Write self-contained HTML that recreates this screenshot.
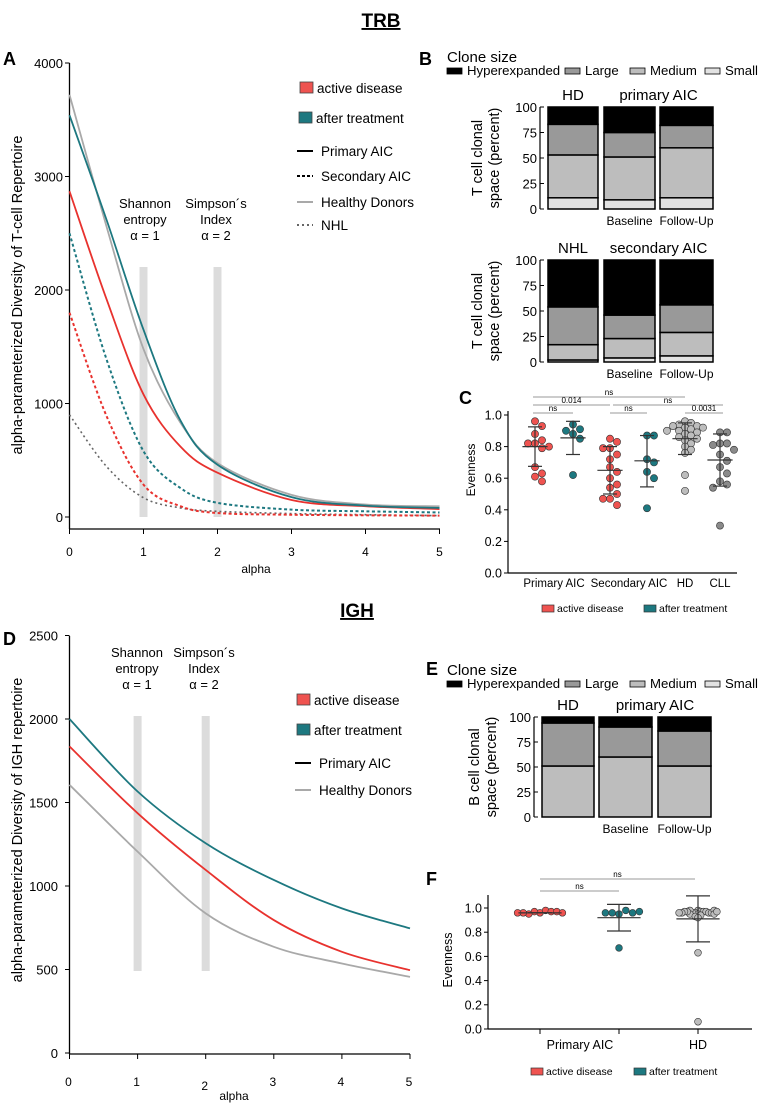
<!DOCTYPE html>
<html><head><meta charset="utf-8"><style>
html,body{margin:0;padding:0;background:#fff}
svg{display:block;font-family:"Liberation Sans",Arial,sans-serif}
</style></head><body>
<svg id="fig" width="765" height="1105" viewBox="0 0 765 1105" xmlns="http://www.w3.org/2000/svg">
<text x="381" y="27" font-size="19" font-weight="bold" text-anchor="middle" text-decoration="underline">TRB</text>
<text x="357" y="617" font-size="19" font-weight="bold" text-anchor="middle" text-decoration="underline">IGH</text>
<text x="3" y="65" font-size="18" font-weight="bold">A</text>
<text x="419" y="65" font-size="18" font-weight="bold">B</text>
<text x="459" y="404" font-size="18" font-weight="bold">C</text>
<text x="3" y="645" font-size="18" font-weight="bold">D</text>
<text x="426" y="675" font-size="18" font-weight="bold">E</text>
<text x="426" y="885" font-size="18" font-weight="bold">F</text>
</svg>
<script>
// ---------- data ----------
const alphaA=[0,0.5,1,1.5,2,3,4,5];
const hdA=[3720,2560,1480,830,475,195,110,95];
const priTealA=[3540,2620,1650,850,460,175,100,80];
const priRedA=[2870,1920,1080,620,390,150,95,70];
const secTealA=[2500,1390,580,255,125,65,50,40];
const secRedA=[1800,890,285,95,35,20,15,12];
const nhlA=[900,445,170,80,50,30,20,12];
const ticksA=[0,1000,2000,3000,4000];
const alphaTicks=[0,1,2,3,4,5];

const alphaD=[0,1,2,3,4,5];
const tealD=[2000,1566,1256,1036,866,746];
const redD=[1836,1436,1096,796,606,496];
const hdD=[1606,1206,836,636,536,456];
const ticksD=[0,500,1000,1500,2000,2500];

// stacked bars: cumulative tops [small, medium, large] (hyper to 100)
const barTopLabels=["HD","Baseline","Follow-Up"];
const tTop=[[11,53,83],[9,51,75],[11,60,82]];
const tBot=[[2,17,54],[4,23,46],[6,29,56]];
const bIgh=[[0,51,94],[0,60,90],[0,51,86]];
const pctTicks=[0,25,50,75,100];

// evenness dot plots
const cCats=["Primary AIC","Secondary AIC","HD","CLL"];
const cPriRed=[0.96,0.93,0.88,0.84,0.82,0.82,0.80,0.79,0.67,0.63,0.61,0.58];
const cPriTeal=[0.94,0.91,0.90,0.88,0.85,0.62];
const cSecRed=[0.85,0.83,0.79,0.79,0.75,0.72,0.67,0.64,0.60,0.56,0.54,0.50,0.47,0.47,0.43];
const cSecTeal=[0.87,0.87,0.72,0.70,0.64,0.60,0.41];
const cHD=[0.96,0.95,0.94,0.93,0.93,0.92,0.92,0.91,0.90,0.90,0.89,0.88,0.87,0.86,0.85,0.84,0.82,0.80,0.78,0.76,0.62,0.52];
const cCLL=[0.89,0.89,0.82,0.82,0.81,0.78,0.75,0.71,0.67,0.63,0.58,0.56,0.54,0.30];
const cMean=[0.80,0.855,0.65,0.71,0.85,0.715];
const cHi=[0.925,0.96,0.80,0.87,0.95,0.88];
const cLo=[0.675,0.75,0.50,0.545,0.75,0.55];
const cTicks=[0,0.2,0.4,0.6,0.8,1.0];

const fRed=[0.96,0.98,0.97,0.97,0.95,0.97,0.96,0.96,0.96];
const fTeal=[0.95,0.98,0.96,0.96,0.96,0.97,0.67];
const fHD=[0.98,0.97,0.96,0.97,0.95,0.96,0.97,0.94,0.98,0.96,0.95,0.97,0.93,0.96,0.97,0.98,0.95,0.92,0.96,0.97,0.96,0.63,0.06];
const fMean=[0.96,0.92,0.91];
const fHi=[0.96,1.03,1.10];
const fLo=[0.96,0.81,0.72];
const fTicks=[0,0.2,0.4,0.6,0.8,1.0];

const RED="#e8322e",TEAL="#1d7880",GRAY="#a9a9a9";
const svg=document.getElementById('fig');
const NS="http://www.w3.org/2000/svg";
function mk(tag,attrs,txt){const e=document.createElementNS(NS,tag);for(const k in attrs)e.setAttribute(k,attrs[k]);if(txt!==undefined)e.textContent=txt;svg.appendChild(e);return e;}
function smooth(pts){let d="M"+pts[0][0]+","+pts[0][1];for(let i=0;i<pts.length-1;i++){const p0=pts[i-1]||pts[i],p1=pts[i],p2=pts[i+1],p3=pts[i+2]||p2;
d+=" C"+(p1[0]+(p2[0]-p0[0])/6)+","+(p1[1]+(p2[1]-p0[1])/6)+" "+(p2[0]-(p3[0]-p1[0])/6)+","+(p2[1]-(p3[1]-p1[1])/6)+" "+p2[0]+","+p2[1];}return d;}

// ---------- Panel A ----------
const xA=a=>69.5+a*74, yA=v=>517-v*0.1135;
[1,2].forEach(a=>{const r=mk('rect',{x:xA(a)-4,y:267,width:8,height:250,fill:"#dcdcdc"});

});
let e;
e=mk('line',{x1:69.5,y1:63,x2:69.5,y2:529,stroke:"#000","stroke-width":1.3});


e=mk('line',{x1:69.5,y1:529,x2:440,y2:529,stroke:"#000","stroke-width":1.3});


ticksA.forEach(v=>{e=mk('line',{x1:65,x2:69.5,y1:yA(v),y2:yA(v),stroke:"#000"});


e=mk('text',{x:63,y:yA(v)+5,"font-size":13,"text-anchor":"end"},String(v));

});
alphaTicks.forEach(a=>{e=mk('line',{x1:xA(a),x2:xA(a),y1:529,y2:534,stroke:"#000"});


e=mk('text',{x:xA(a),y:556,"font-size":12,"text-anchor":"middle"},String(a));

});
e=mk('text',{x:256,y:573,"font-size":12,"text-anchor":"middle"},"alpha");


e=mk('text',{x:0,y:0,"font-size":14.5,"text-anchor":"middle",transform:"translate(22,295) rotate(-90)"},"alpha-parameterized Diversity of T-cell Repertoire");


[["Shannon","entropy","α = 1",145],["Simpson´s","Index","α = 2",216]].forEach(t=>{[0,1,2].forEach(i=>{e=mk('text',{x:t[3],y:208+i*16,"font-size":13,"text-anchor":"middle"},t[i]);

});});
const seriesA=[[nhlA,"#666","2,3",1.6],[secRedA,RED,"3,2.5",2],[secTealA,TEAL,"3,2.5",2],[priRedA,RED,"",1.8],[hdA,GRAY,"",1.8],[priTealA,TEAL,"",1.8]];
const namesA=["nhl-curve","secondary-aic-active-curve","secondary-aic-treated-curve","primary-aic-active-curve","healthy-donor-curve","primary-aic-treated-curve"];
seriesA.forEach((s,k)=>{e=mk('path',{d:smooth(alphaA.map((a,i)=>[xA(a),yA(s[0][i])])),fill:"none",stroke:s[1],"stroke-width":s[3],"stroke-dasharray":s[2]});

});
// legend A
function legSwatch(x,y,col,label,name){e=mk('rect',{x:x,y:y-6,width:13,height:11,fill:col,stroke:"#444","stroke-width":0.8});


e=mk('text',{x:x+17,y:y+5,"font-size":13.5},label);

}
function legLine(x,y,col,dash,label,name){e=mk('line',{x1:x,x2:x+16,y1:y,y2:y,stroke:col,"stroke-width":2,"stroke-dasharray":dash});


e=mk('text',{x:x+24,y:y+5,"font-size":13.5},label);

}
legSwatch(300,88,"#ef5350","active disease","legend-a-active");
legSwatch(299,118,TEAL,"after treatment","legend-a-treated");
legLine(297,151,"#000","","Primary AIC","legend-a-primary");
legLine(297,176,"#000","3,2","Secondary AIC","legend-a-secondary");
legLine(297,202,GRAY,"","Healthy Donors","legend-a-healthy");
legLine(297,225,"#666","2,3","NHL","legend-a-nhl");

// ---------- Panel D ----------
const xD=a=>69.5+a*68.1, yD=v=>1053-v*0.167;
[1,2].forEach(a=>{const r=mk('rect',{x:xD(a)-4,y:716,width:8,height:255,fill:"#dcdcdc"});

});
e=mk('line',{x1:69.5,y1:636,x2:69.5,y2:1054,stroke:"#000","stroke-width":1.3});


e=mk('line',{x1:69.5,y1:1054,x2:410,y2:1054,stroke:"#000","stroke-width":1.3});


ticksD.forEach(v=>{e=mk('line',{x1:65,x2:69.5,y1:yD(v),y2:yD(v),stroke:"#000"});


e=mk('text',{x:58,y:yD(v)+5,"font-size":13,"text-anchor":"end"},String(v));

});
alphaTicks.forEach(a=>{e=mk('line',{x1:xD(a),x2:xD(a),y1:1054,y2:1059,stroke:"#000"});


e=mk('text',{x:xD(a)-1,y:a==2?1090:1086,"font-size":12,"text-anchor":"middle"},String(a));

});
e=mk('text',{x:234,y:1100,"font-size":12,"text-anchor":"middle"},"alpha");


e=mk('text',{x:0,y:0,"font-size":14.5,"text-anchor":"middle",transform:"translate(22,830) rotate(-90)"},"alpha-parameterized Diversity of IGH repertoire");


[["Shannon","entropy","α = 1",137],["Simpson´s","Index","α = 2",204]].forEach(t=>{[0,1,2].forEach(i=>{e=mk('text',{x:t[3],y:657+i*16,"font-size":13,"text-anchor":"middle"},t[i]);

});});
[[hdD,GRAY,"healthy-donor-curve-d"],[redD,RED,"primary-aic-active-curve-d"],[tealD,TEAL,"primary-aic-treated-curve-d"]].forEach(s=>{
e=mk('path',{d:smooth(alphaD.map((a,i)=>[xD(a),yD(s[0][i])])),fill:"none",stroke:s[1],"stroke-width":1.8});

});
legSwatch(297,700,"#ef5350","active disease","legend-d-active");
legSwatch(297,730,TEAL,"after treatment","legend-d-treated");
legLine(295,763,"#000","","Primary AIC","legend-d-primary");
legLine(295,790,GRAY,"","Healthy Donors","legend-d-healthy");

// ---------- stacked bars ----------
const segCols=["#e2e2e2","#bdbdbd","#999999","#000000"];
const legNames=["Hyperexpanded","Large","Medium","Small"];
const legCols=["#000","#999","#bdbdbd","#e2e2e2"];
function cloneLegend(y,prefix){e=mk('text',{x:447,y:y,"font-size":15},"Clone size");


const xs=[447,565,630,705];
legNames.forEach((n,i)=>{e=mk('rect',{x:xs[i],y:y+6,width:15,height:6,fill:legCols[i],stroke:"#000","stroke-width":0.8});


e=mk('text',{x:xs[i]+20,y:y+13,"font-size":13.2},n);

});}
function stack(data,axisX,bars,y0,pxPer,prefix,groupA,groupB,ylab1,ylab2,ylabX){
 const yS=v=>y0-v*pxPer;
 e=mk('line',{x1:axisX,x2:axisX,y1:yS(100),y2:yS(0),stroke:"#000","stroke-width":1.2});
 
 
 pctTicks.forEach(v=>{e=mk('line',{x1:axisX,x2:axisX+4,y1:yS(v),y2:yS(v),stroke:"#000"});
 
 
 e=mk('text',{x:axisX-3,y:yS(v)+5,"font-size":13,"text-anchor":"end"},String(v));
 
 });
 data.forEach((d,i)=>{const b=bars[i];const bounds=[0,d[0],d[1],d[2],100];
  for(let s=0;s<4;s++){if(bounds[s+1]-bounds[s]<=0)continue;
   e=mk('rect',{x:b[0],y:yS(bounds[s+1]),width:b[1]-b[0],height:(bounds[s+1]-bounds[s])*pxPer,fill:segCols[s],stroke:"#000","stroke-width":1.5});
   
   }});
 e=mk('text',{x:(bars[0][0]+bars[0][1])/2,y:yS(100)-7,"font-size":15,"text-anchor":"middle"},groupA);
 
 
 e=mk('text',{x:(bars[1][0]+bars[2][1])/2,y:yS(100)-7,"font-size":15,"text-anchor":"middle"},groupB);
 
 
 [1,2].forEach(i=>{e=mk('text',{x:(bars[i][0]+bars[i][1])/2,y:y0+16,"font-size":12,"text-anchor":"middle"},barTopLabels[i]);
 
 });
 [ylab1,ylab2].forEach((t,i)=>{e=mk('text',{x:0,y:0,"font-size":14.5,"text-anchor":"middle",transform:"translate("+(ylabX+i*17)+","+yS(50)+") rotate(-90)"},t);
 
 });
}
cloneLegend(62,"b");
const barsB=[[548,598],[604,655],[660,713]];
stack(tTop,540,barsB,209,1.02,"b-top","HD","primary AIC","T cell clonal","space (percent)",482);
stack(tBot,540,barsB,362,1.02,"b-bottom","NHL","secondary AIC","T cell clonal","space (percent)",482);
cloneLegend(675,"e");
const barsE=[[542,594],[599,652],[658,711]];
stack(bIgh,534,barsE,817,1.0,"e","HD","primary AIC","B cell clonal","space (percent)",479);

// ---------- dot plots ----------
function swarm(vals,cx,ys,minD,step){const placed=[];const out=[];
 vals.forEach(v=>{const y=ys(v);let k=0,x=cx;
  while(true){const off=k==0?0:(k%2?1:-1)*Math.ceil(k/2)*step;x=cx+off;
   if(!placed.some(p=>Math.hypot(p[0]-x,p[1]-y)<minD))break;k++;if(k>40)break;}
  placed.push([x,y]);out.push([x,y]);});return out;}
function dotAxis(axisX,yS,top,bot,xEnd,ticks,prefix){
 e=mk('line',{x1:axisX,x2:axisX,y1:top,y2:bot,stroke:"#000","stroke-width":1.2});
 
 
 e=mk('line',{x1:axisX,x2:xEnd,y1:bot,y2:bot,stroke:"#000","stroke-width":1.2});
 
 
 ticks.forEach(v=>{e=mk('line',{x1:axisX-4,x2:axisX,y1:yS(v),y2:yS(v),stroke:"#000"});
 
 
 e=mk('text',{x:axisX-6,y:yS(v)+4.5,"font-size":12.5,"text-anchor":"end"},v.toFixed(1));
 
 });}
function group(vals,cx,yS,col,r,minD,step,mean,hi,lo,cap,prefix){
 swarm(vals,cx,yS,minD,step).forEach(p=>{e=mk('circle',{cx:p[0],cy:p[1],r:r,fill:col,stroke:"#333","stroke-width":0.6});
 
 });
 e=mk('line',{x1:cx,x2:cx,y1:yS(hi),y2:yS(lo),stroke:"#333","stroke-width":1.2});
 
 
 [[mean,cap*1.8],[hi,cap],[lo,cap]].forEach(m=>{e=mk('line',{x1:cx-m[1],x2:cx+m[1],y1:yS(m[0]),y2:yS(m[0]),stroke:"#333","stroke-width":1.2});
 
 });}
function sig(x1,x2,y,label,prefix){e=mk('line',{x1:x1,x2:x2,y1:y,y2:y,stroke:"#999","stroke-width":1});
 
 
 e=mk('text',{x:(x1+x2)/2,y:y-2,"font-size":8,"text-anchor":"middle"},label);
 
 }
function legSmall(x,y,col,label,name){e=mk('rect',{x:x,y:y-4,width:12,height:7,fill:col,stroke:"#333","stroke-width":0.7});
 
 
 e=mk('text',{x:x+15,y:y+3,"font-size":10.5},label);
 
 }
function dotLegend(y,x1,x2,prefix){legSmall(x1,y,"#ef5350","active disease",prefix+'-legend-active');legSmall(x2,y,TEAL,"after treatment",prefix+'-legend-treated');}

// Panel C
const yC=v=>573-v*158;
dotAxis(508,yC,411,573,737,cTicks,"c");
const cX=[535,573,610,647,685,720];
const cData=[cPriRed,cPriTeal,cSecRed,cSecTeal,cHD,cCLL];
const cCols=["#ef5350",TEAL,"#ef5350",TEAL,"#bdbdbd","#8a8a8a"];
const cMinD=[6.8,6.8,6.8,6.8,5.5,6.8];
const cStep=[7,7,7,7,6,7];
cData.forEach((d,i)=>group(d,cX[i],yC,cCols[i],3.6,cMinD[i],cStep[i],cMean[i],cHi[i],cLo[i],7,"c-group-"+i));
[[554,"Primary AIC"],[629,"Secondary AIC"],[685,"HD"],[720,"CLL"]].forEach((l,i)=>{e=mk('text',{x:l[0],y:587,"font-size":11.5,"text-anchor":"middle"},cCats[i]);

});
e=mk('text',{x:0,y:0,"font-size":12,"text-anchor":"middle",transform:"translate(475,470) rotate(-90)"},"Evenness");


sig(533,685,397,"ns","c");sig(533,610,405,"0.014","c");sig(613,723,405,"ns","c");
sig(533,573,413,"ns","c");sig(610,647,413,"ns","c");sig(685,723,413,"0.0031","c");
dotLegend(609,542,644,"c");

// Panel F
const yF=v=>1029-v*121;
dotAxis(488,yF,895,1029,752,fTicks,"f");
[540,619,698].forEach(x=>{e=mk('line',{x1:x,x2:x,y1:1029,y2:1034,stroke:"#000"});

});
const fX=[540,619,698];
const fData=[fRed,fTeal,fHD];
const fCols=["#ef5350",TEAL,"#bdbdbd"];
const fMinD=[5.5,6,2.6];
const fStep=[5.6,6.8,2.7];
fData.forEach((d,i)=>group(d,fX[i],yF,fCols[i],3.4,fMinD[i],fStep[i],fMean[i],fHi[i],fLo[i],12,"f-group-"+i));
[[580,"Primary AIC"],[698,"HD"]].forEach(l=>{e=mk('text',{x:l[0],y:1049,"font-size":12.5,"text-anchor":"middle"},l[1]);

});
e=mk('text',{x:0,y:0,"font-size":12.5,"text-anchor":"middle",transform:"translate(452,960) rotate(-90)"},"Evenness");


sig(540,695,879,"ns","f");sig(540,619,891,"ns","f");
dotLegend(1072,531,634,"f");
</script>
</body></html>
